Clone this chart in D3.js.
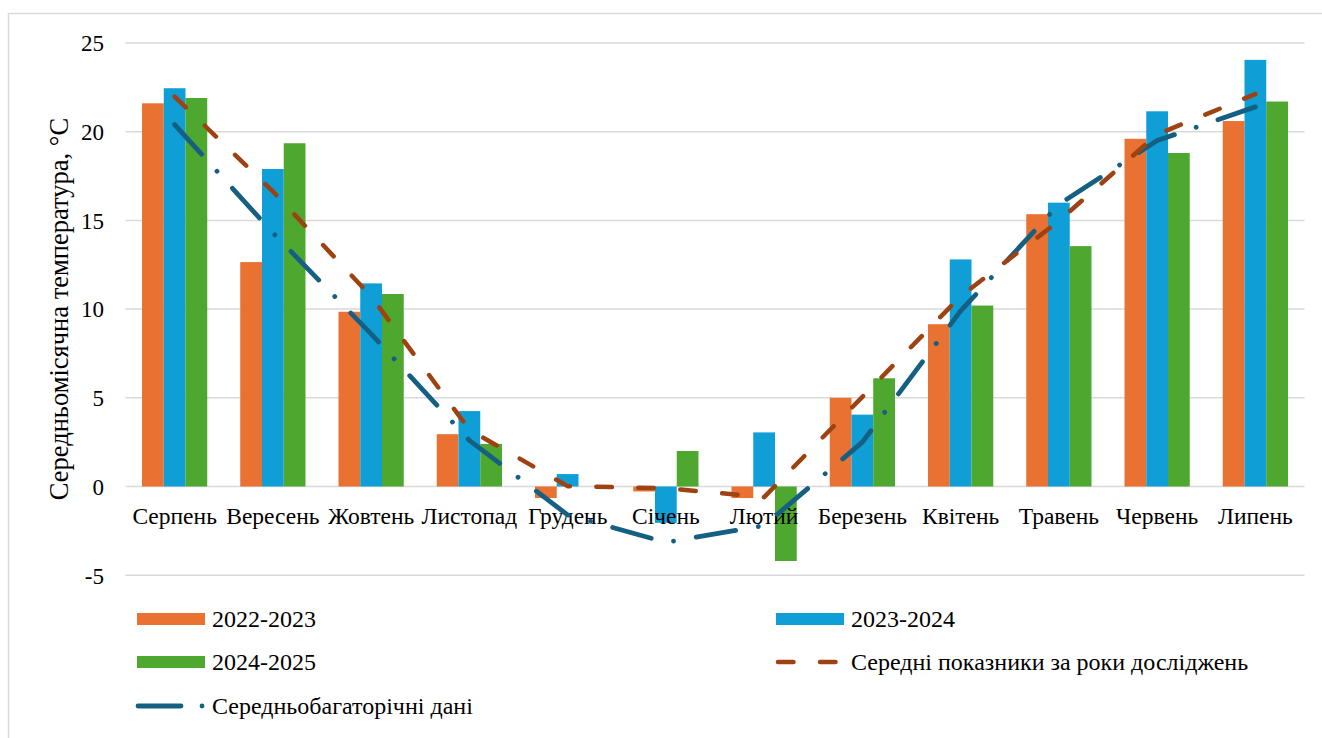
<!DOCTYPE html>
<html>
<head>
<meta charset="utf-8">
<script src="https://cdn.jsdelivr.net/npm/d3@7"></script>
<style>
  html, body { margin: 0; padding: 0; background: #fff; }
  svg { display: block; font-family: "Liberation Serif", "Times New Roman", serif; }
</style>
</head>
<body>
<svg id="chart" width="1322" height="738"></svg>
<script>
// ---- data ----
const months = ["Серпень","Вересень","Жовтень","Листопад","Грудень","Січень","Лютий","Березень","Квітень","Травень","Червень","Липень"];
const y2022_2023 = [21.6, 12.65, 9.85, 2.95, -0.65, -0.28, -0.65, 5.0, 9.15, 15.35, 19.6, 20.6];
const y2023_2024 = [22.45, 17.9, 11.45, 4.25, 0.7, -2.05, 3.05, 4.05, 12.8, 16.0, 21.15, 24.05];
const y2024_2025 = [21.9, 19.35, 10.85, 2.4, 0.0, 2.0, -4.2, 6.1, 10.2, 13.55, 18.8, 21.7];
const meanStudy  = [21.98, 16.63, 10.72, 3.2, 0.02, -0.1, -0.6, 5.05, 10.72, 14.97, 19.85, 22.12];
const longTerm   = [20.4, 14.3, 8.6, 2.6, -1.6, -3.15, -2.2, 2.5, 9.9, 15.9, 19.5, 21.4];
const yTicks = [-5, 0, 5, 10, 15, 20, 25];
const seriesNames = ["2022-2023", "2023-2024", "2024-2025"];
const lineNames = ["Середні показники за роки досліджень", "Середньобагаторічні дані"];
const yTitle = "Середньомісячна температура, °С";

// ---- styles ----
const barColors = ["#E97132", "#0F9ED5", "#4EA72E"];
const meanColor = "#9E4212";
const longColor = "#156082";
const gridColor = "#D9D9D9";

const svg = d3.select("#chart");

// chart border
svg.append("rect").attr("x", 8.5).attr("y", 13.5).attr("width", 1400).attr("height", 800)
  .attr("fill", "none").attr("stroke", gridColor).attr("stroke-width", 1.5);

const plot = { left: 125.5, right: 1304.5, top: 43, bottom: 575.2 };

const x = d3.scaleBand().domain(months).range([plot.left, plot.right]).paddingInner(0).paddingOuter(0);
const y = d3.scaleLinear().domain([-5, 25]).range([plot.bottom, plot.top]);
const groupFrac = 0.664;
const xs = d3.scaleBand().domain(seriesNames)
  .range([x.bandwidth() * (1 - groupFrac) / 2, x.bandwidth() * (1 + groupFrac) / 2]).padding(0);

// gridlines
svg.append("g").selectAll("line").data(yTicks).join("line")
  .attr("x1", plot.left).attr("x2", plot.right)
  .attr("y1", d => y(d)).attr("y2", d => y(d))
  .attr("stroke", gridColor).attr("stroke-width", 1.5);

// y axis labels
const yAxis = d3.axisLeft(y).tickValues(yTicks).tickSize(0).tickPadding(0).tickFormat(d => String(d));
const yg = svg.append("g").attr("transform", `translate(104,0)`).call(yAxis);
yg.select(".domain").remove();
yg.selectAll("text").attr("font-size", 23).attr("fill", "#000")
  .attr("font-family", "Liberation Serif").attr("dy", "0.34em");

// y title
svg.append("text")
  .attr("transform", `translate(68,${(plot.top + plot.bottom) / 2}) rotate(-90)`)
  .attr("text-anchor", "middle").attr("font-size", 26.5).attr("fill", "#000")
  .text(yTitle);

// bars
const allSeries = [y2022_2023, y2023_2024, y2024_2025];
allSeries.forEach((vals, si) => {
  svg.append("g").selectAll("rect").data(vals).join("rect")
    .attr("x", (d, i) => x(months[i]) + xs(seriesNames[si]))
    .attr("width", xs.bandwidth())
    .attr("y", d => y(Math.max(0, d)))
    .attr("height", d => Math.abs(y(d) - y(0)))
    .attr("fill", barColors[si]);
});

// x axis labels (next to the zero line)
const xAxis = d3.axisBottom(x).tickSize(0).tickPadding(0);
const xg = svg.append("g").attr("transform", `translate(0,${y(0)})`).call(xAxis);
xg.select(".domain").remove();
xg.selectAll("text").attr("font-size", 23.5).attr("fill", "#000")
  .attr("font-family", "Liberation Serif").attr("dy", null).attr("y", 37);

// lines
const line = d3.line().x((d, i) => x(months[i]) + x.bandwidth() / 2).y(d => y(d));
svg.append("path").datum(longTerm).attr("d", line)
  .attr("fill", "none").attr("stroke", longColor).attr("stroke-width", 4.8)
  .attr("stroke-linecap", "round").attr("stroke-linejoin", "round")
  .attr("stroke-dasharray", "40,23,0.01,23");
svg.append("path").datum(meanStudy).attr("d", line)
  .attr("fill", "none").attr("stroke", meanColor).attr("stroke-width", 4.5)
  .attr("stroke-linecap", "round").attr("stroke-linejoin", "round")
  .attr("stroke-dasharray", "15.5,26.5");

// legend
const leg = svg.append("g").attr("font-size", 24).attr("fill", "#000");
const legItems = [
  { type: "rect", color: barColors[0], label: seriesNames[0], x: 137, y: 619 },
  { type: "rect", color: barColors[1], label: seriesNames[1], x: 776, y: 619 },
  { type: "rect", color: barColors[2], label: seriesNames[2], x: 137, y: 662 },
  { type: "mean", color: meanColor, label: lineNames[0], x: 776, y: 662 },
  { type: "long", color: longColor, label: lineNames[1], x: 137, y: 706 }
];
legItems.forEach(it => {
  if (it.type === "rect") {
    leg.append("rect").attr("x", it.x).attr("y", it.y - 6).attr("width", 68).attr("height", 12).attr("fill", it.color);
  } else if (it.type === "mean") {
    leg.append("line").attr("x1", it.x + 2).attr("x2", it.x + 64).attr("y1", it.y).attr("y2", it.y)
      .attr("stroke", it.color).attr("stroke-width", 4.5).attr("stroke-linecap", "round")
      .attr("stroke-dasharray", "15.5,26.5");
  } else {
    leg.append("line").attr("x1", it.x + 1).attr("x2", it.x + 66).attr("y1", it.y).attr("y2", it.y)
      .attr("stroke", it.color).attr("stroke-width", 4.8).attr("stroke-linecap", "round")
      .attr("stroke-dasharray", "43,21,0.01,30");
  }
  leg.append("text").attr("x", it.x + 75).attr("y", it.y).attr("dy", "0.34em").text(it.label);
});
</script>
</body>
</html>
